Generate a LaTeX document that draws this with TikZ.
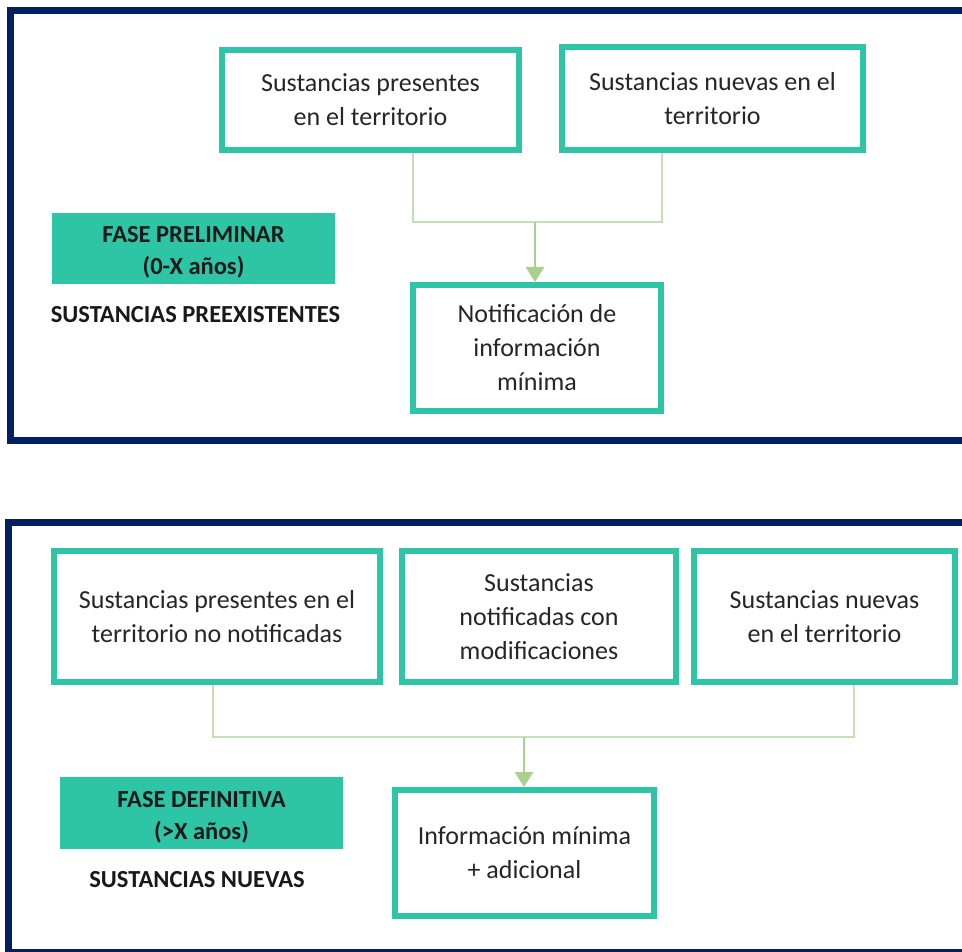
\documentclass[tikz,border=0pt]{standalone}
\usepackage{fontspec}
\setmainfont{Carlito}
\usetikzlibrary{arrows.meta}
\definecolor{teal1}{HTML}{2EC5A7}
\definecolor{navy}{HTML}{002060}
\definecolor{lgreen}{HTML}{C5E0B4}
\definecolor{agreen}{HTML}{A9D18E}
\begin{document}
\begin{tikzpicture}[x=1pt,y=-1pt,
 sbox/.style={draw=teal1, line width=6pt, fill=white, inner sep=0pt, align=center,
   font=\fontsize{26}{34}\selectfont, text=black!85},
 fase/.style={fill=teal1, inner sep=0pt},
 fasetext/.style={inner sep=0pt, align=center, text=black!90,
   font=\bfseries\fontsize{24.5}{32}\selectfont},
 lbl/.style={inner sep=0pt, text=black!90, font=\bfseries\fontsize{24.5}{30}\selectfont},
 frame/.style={draw=navy, line width=6.5pt},
 conn/.style={draw=lgreen, line width=1.8pt},
 arr/.style={draw=agreen, line width=2.8pt, -{Triangle[width=18pt,length=15pt]}}]
\useasboundingbox (0,0) rectangle (962,952);
\clip (0,0) rectangle (962,952);
\fill[white] (0,0) rectangle (962,952);

% frames
\draw[frame] (10.5,10.5) rectangle (1000,440.5);
\draw[frame] (8.5,522.5) rectangle (1000,952);

% top section
\node[sbox, minimum width=297pt, minimum height=100pt] (a) at (370.5,100)
  {Sustancias presentes\\en el territorio};
\node[sbox, minimum width=301pt, minimum height=103pt] (b) at (712.5,98.5)
  {Sustancias nuevas en el\\territorio};
\node[sbox, minimum width=248pt, minimum height=126pt] (c) at (537,348)
  {Notificación de\\información\\mínima};
\node[fase, minimum width=283pt, minimum height=71pt] (p1) at (193.5,248.5) {};
\node[fasetext] (p1t) at ([yshift=-4pt]p1.center) {FASE PRELIMINAR\\(0-X años)};
\node[lbl] (l1) at (195.5,315) {SUSTANCIAS PREEXISTENTES};

\coordinate (j1) at (413,222);
\coordinate (j2) at (662,222);
\coordinate (j0) at (535,222);
\draw[conn] (j1 |- a.south) -- (j1) -- (j2) -- (j2 |- b.south);
\draw[arr] (j0) -- (j0 |- c.north);

% bottom section
\node[sbox, minimum width=326pt, minimum height=131pt] (d) at (217,616.5)
  {Sustancias presentes en el\\territorio no notificadas};
\node[sbox, minimum width=274pt, minimum height=131pt] (e) at (539,616.5)
  {Sustancias\\notificadas con\\modificaciones};
\node[sbox, minimum width=261pt, minimum height=131pt] (f) at (824.5,616.5)
  {Sustancias nuevas\\en el territorio};
\node[sbox, minimum width=259pt, minimum height=126pt] (g) at (524.5,853)
  {Información mínima\\+ adicional};
\node[fase, minimum width=283pt, minimum height=72pt] (p2) at (201.5,813) {};
\node[fasetext] (p2t) at ([yshift=-4pt]p2.center) {FASE DEFINITIVA\\(>X años)};
\node[lbl] (l2) at (197,880) {SUSTANCIAS NUEVAS};

\coordinate (k1) at (213,737);
\coordinate (k2) at (854,737);
\coordinate (k0) at (524,737);
\draw[conn] (k1 |- d.south) -- (k1) -- (k2) -- (k2 |- f.south);
\draw[arr] (k0) -- (k0 |- g.north);
\end{tikzpicture}
\end{document}
